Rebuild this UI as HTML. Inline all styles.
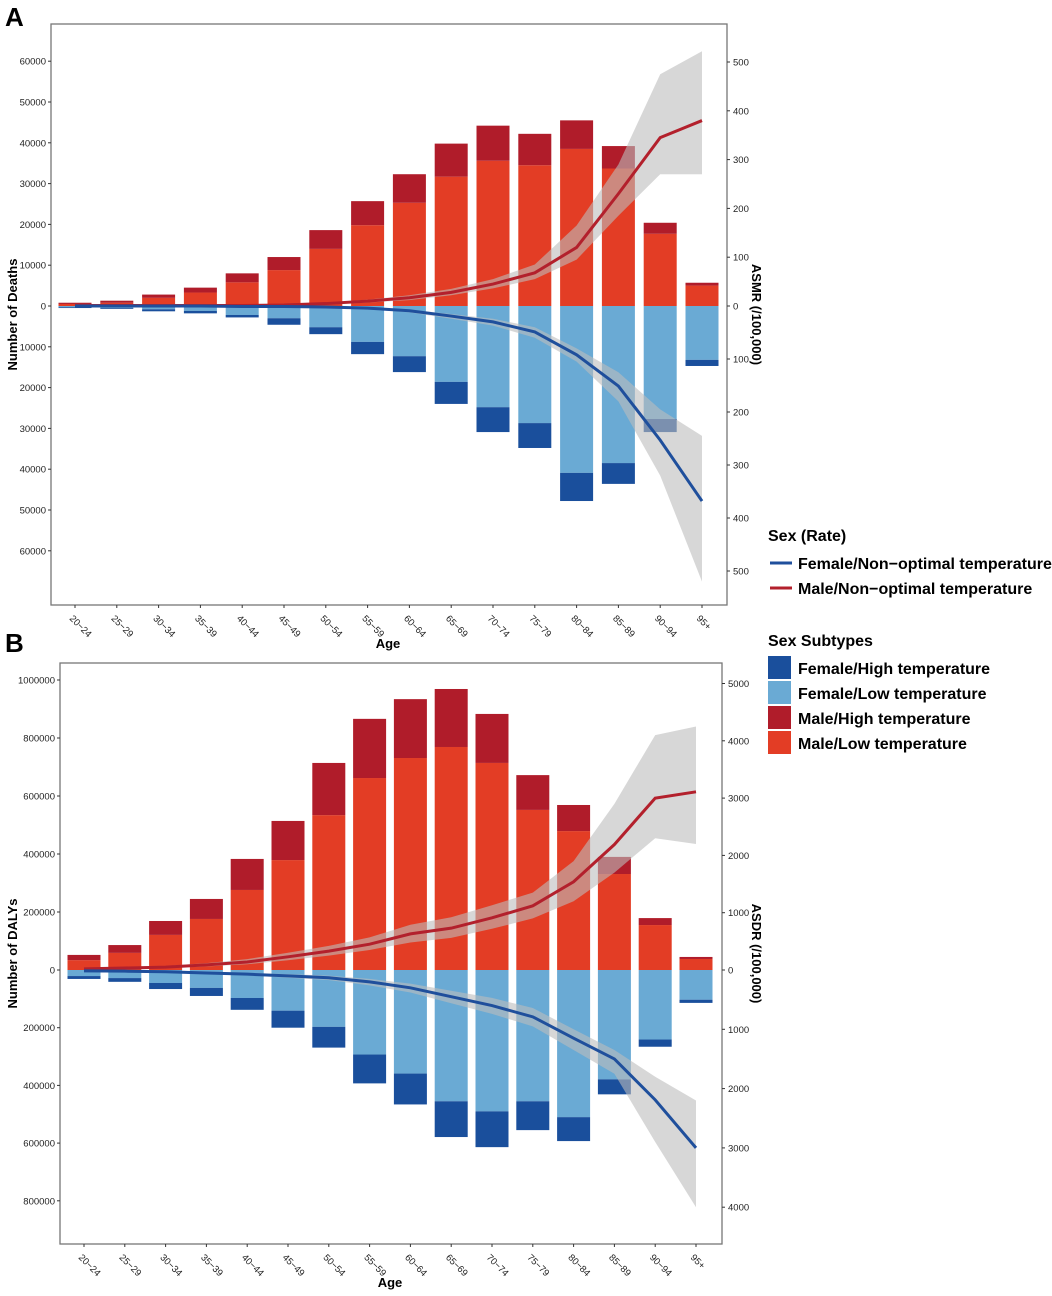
<!DOCTYPE html>
<html><head><meta charset="utf-8"><style>
html,body{margin:0;padding:0;background:#fff;}
svg{display:block;font-family:"Liberation Sans",Arial,sans-serif;}
</style></head><body>
<svg id="fig" width="1052" height="1296" viewBox="0 0 1052 1296" xmlns="http://www.w3.org/2000/svg">
<g id="root"></g>
</svg>
<script>
const ages = ["20-24","25-29","30-34","35-39","40-44","45-49","50-54","55-59","60-64","65-69","70-74","75-79","80-84","85-89","90-94","95+"];
// Panel A: deaths
const deathsMaleLow  = [500,800,2000,3300,5800,8800,14000,19800,25300,31700,35600,34500,38500,33700,17700,5000];
const deathsMaleHigh = [300,500,800,1200,2200,3200,4600,5900,7000,8100,8600,7700,7000,5500,2700,700];
const deathsFemLow   = [300,500,800,1200,2200,3000,5200,8800,12300,18600,24800,28700,40900,38500,27700,13200];
const deathsFemHigh  = [200,200,500,600,600,1600,1700,3000,3900,5400,6100,6100,6900,5100,3200,1500];
const asmrMale    = [1,1,1,1,1,2,5,10,17,28,45,68,120,230,345,380];
const asmrMaleLo  = [0,0,0,0,1,1,3,7,12,22,36,55,95,185,270,270];
const asmrMaleHi  = [2,2,2,2,2,3,7,13,22,35,55,85,165,290,475,522];
const asmrFem     = [0,0,0,0,1,1,2,4,9,19,30,49,92,151,253,368];
const asmrFemLo   = [0,0,0,0,0,1,1,3,7,15,24,40,80,125,195,245];
const asmrFemHi   = [1,1,1,1,1,2,3,6,12,24,37,60,105,180,320,520];
// Panel B: DALYs
const dalyMaleLow  = [34000,59000,121000,176000,276000,379000,534000,662000,731000,769000,714000,552000,479000,331000,155000,38000];
const dalyMaleHigh = [18000,27000,48000,69000,107000,135000,180000,204000,203000,200000,169000,120000,90000,59000,24000,7000];
const dalyFemLow   = [21000,28000,45000,62000,97000,141000,197000,293000,359000,455000,490000,455000,510000,379000,241000,103000];
const dalyFemHigh  = [10000,13000,21000,28000,41000,59000,72000,100000,107000,124000,124000,100000,83000,52000,25000,11000];
const asdrMale    = [20,35,50,90,140,230,330,450,630,730,910,1120,1540,2190,3000,3110];
const asdrMaleLo  = [10,20,35,60,100,170,250,350,480,560,720,900,1200,1700,2300,2200];
const asdrMaleHi  = [30,50,70,120,190,300,420,570,790,920,1130,1350,1900,2900,4100,4250];
const asdrFem     = [15,20,30,50,70,100,130,200,300,450,600,790,1150,1500,2190,3000];
const asdrFemLo   = [10,15,20,35,50,70,95,150,230,350,470,640,1000,1350,1800,2200];
const asdrFemHi   = [20,30,40,65,90,130,170,260,380,560,740,950,1350,1750,2900,4000];
const deathTicks = ["60000","50000","40000","30000","20000","10000","0","10000","20000","30000","40000","50000","60000"];
const deathTickVals = [60000,50000,40000,30000,20000,10000,0,-10000,-20000,-30000,-40000,-50000,-60000];
const asmrTickVals = [500,400,300,200,100,0,-100,-200,-300,-400,-500];
const dalyTickVals = [1000000,800000,600000,400000,200000,0,-200000,-400000,-600000,-800000];
const asdrTickVals = [5000,4000,3000,2000,1000,0,-1000,-2000,-3000,-4000];

const NS="http://www.w3.org/2000/svg";
const root=document.getElementById('root');
function mk(tag,attrs,parent,text){const e=document.createElementNS(NS,tag);for(const k in attrs)e.setAttribute(k,attrs[k]);if(text!==undefined)e.textContent=text;(parent||root).appendChild(e);return e;}
const C={fh:"#1a4f9c",fl:"#6aaad4",mh:"#b01c2a",ml:"#e33d25",bl:"#1f4f9c",rd:"#b3202c"};

function panel(cfg){
  const g=mk('g',{});
  
  
  const L=cfg.box[0],T=cfg.box[1],R=cfg.box[2],B=cfg.box[3];
  const yL=v=> v>=0 ? cfg.zero - v*cfg.lUp : cfg.zero - v*cfg.lDn;
  const yR=v=> v>=0 ? cfg.zero - v*cfg.rUp : cfg.zero - v*cfg.rDn;
  const x=i=> cfg.x0 + i*cfg.dx;
  const bw=33;
  // bars
  ages.forEach((a,i)=>{
    const ml=cfg.ml[i], mh=cfg.mh[i], fl=cfg.fl[i], fh=cfg.fh[i];
    let r=mk('rect',{x:x(i)-bw/2,y:yL(ml),width:bw,height:yL(0)-yL(ml),fill:C.ml},g);
    
    
    r=mk('rect',{x:x(i)-bw/2,y:yL(ml+mh),width:bw,height:yL(ml)-yL(ml+mh),fill:C.mh},g);
    
    
    r=mk('rect',{x:x(i)-bw/2,y:yL(0),width:bw,height:yL(-fl)-yL(0),fill:C.fl},g);
    
    
    r=mk('rect',{x:x(i)-bw/2,y:yL(-fl),width:bw,height:yL(-fl-fh)-yL(-fl),fill:C.fh},g);
    
    
  });
  // bands
  function band(lo,hi,sign,nm){
    let pts=ages.map((a,i)=>x(i)+','+yR(sign*hi[i]));
    pts=pts.concat(ages.map((a,i)=>x(i)+','+yR(sign*lo[i])).reverse());
    const p=mk('polygon',{points:pts.join(' '),fill:"#bdbdbd","fill-opacity":0.6},g);
    
    
  }
  band(cfg.rmLo,cfg.rmHi,1,'male-rate-ci-band');
  band(cfg.rfLo,cfg.rfHi,-1,'female-rate-ci-band');
  function line(v,sign,col,nm){
    const p=mk('polyline',{points:ages.map((a,i)=>x(i)+','+yR(sign*v[i])).join(' '),fill:'none',stroke:col,'stroke-width':3},g);
    
    
  }
  line(cfg.rm,1,C.rd,'male-rate-line');
  line(cfg.rf,-1,C.bl,'female-rate-line');
  // frame
  const f=mk('rect',{x:L,y:T,width:R-L,height:B-T,fill:'none',stroke:'#777','stroke-width':1.3},g);
  
  
  // left ticks
  cfg.lTicks.forEach(v=>{
    mk('line',{x1:L-3,x2:L,y1:yL(v),y2:yL(v),stroke:'#333'},g);
    const t=mk('text',{x:L-5,y:yL(v)+3.5,'font-size':9.5,'text-anchor':'end',fill:'#222'},g,String(Math.abs(v)));
    
    
  });
  cfg.rTicks.forEach(v=>{
    mk('line',{x1:R,x2:R+3,y1:yR(v),y2:yR(v),stroke:'#333'},g);
    const t=mk('text',{x:R+6,y:yR(v)+3.5,'font-size':9.5,fill:'#222'},g,String(Math.abs(v)));
    
    
  });
  ages.forEach((a,i)=>{
    mk('line',{x1:x(i),x2:x(i),y1:B,y2:B+3,stroke:'#333'},g);
    const t=mk('text',{x:x(i)-6,y:B+14,'font-size':9.5,fill:'#222',transform:`rotate(45 ${x(i)-6} ${B+14})`},g,a.replace('-','\u2212'));
    
    
  });
  let t=mk('text',{x:cfg.ageX,y:B+43,'font-size':13,'font-weight':'bold','text-anchor':'middle'},g,'Age');
  
  
  const my=(T+B)/2;
  t=mk('text',{x:17,y:my,'font-size':13,'font-weight':'bold','text-anchor':'middle',transform:`rotate(-90 17 ${my})`},g,cfg.lTitle);
  
  
  t=mk('text',{x:752,y:my,'font-size':13,'font-weight':'bold','text-anchor':'middle',transform:`rotate(90 752 ${my})`},g,cfg.rTitle);
  
  
  t=mk('text',{x:5,y:cfg.letterY,'font-size':26,'font-weight':'bold'},g,cfg.letter);
  
  
}

panel({name:'panel-a-deaths',box:[51,24,727,605],zero:306,lUp:40.8/10000,lDn:40.8/10000,rUp:48.8/100,rDn:53/100,
  x0:75,dx:41.8,ml:deathsMaleLow,mh:deathsMaleHigh,fl:deathsFemLow,fh:deathsFemHigh,
  rm:asmrMale,rmLo:asmrMaleLo,rmHi:asmrMaleHi,rf:asmrFem,rfLo:asmrFemLo,rfHi:asmrFemHi,
  lTicks:deathTickVals,rTicks:asmrTickVals,lTitle:'Number of Deaths',rTitle:'ASMR (/100,000)',ageX:388,letter:'A',letterY:26});
panel({name:'panel-b-dalys',box:[60,663,722,1244],zero:970,lUp:58/200000,lDn:57.7/200000,rUp:57.3/1000,rDn:59.3/1000,
  x0:84,dx:40.8,ml:dalyMaleLow,mh:dalyMaleHigh,fl:dalyFemLow,fh:dalyFemHigh,
  rm:asdrMale,rmLo:asdrMaleLo,rmHi:asdrMaleHi,rf:asdrFem,rfLo:asdrFemLo,rfHi:asdrFemHi,
  lTicks:dalyTickVals,rTicks:asdrTickVals,lTitle:'Number of DALYs',rTitle:'ASDR (/100,000)',ageX:390,letter:'B',letterY:652});

// legends
const lg=mk('g',{});


let t=mk('text',{x:768,y:541,'font-size':16,'font-weight':'bold'},lg,'Sex (Rate)');


[["Female/Non\u2212optimal temperature",C.bl,563],["Male/Non\u2212optimal temperature",C.rd,588]].forEach(d=>{
  mk('line',{x1:770,x2:792,y1:d[2],y2:d[2],stroke:d[1],'stroke-width':3},lg);
  const e=mk('text',{x:798,y:d[2]+6,'font-size':16,'font-weight':'bold'},lg,d[0]);
  
  
});
t=mk('text',{x:768,y:646,'font-size':16,'font-weight':'bold'},lg,'Sex Subtypes');


[["Female/High temperature",C.fh],["Female/Low temperature",C.fl],["Male/High temperature",C.mh],["Male/Low temperature",C.ml]].forEach((d,i)=>{
  const y=656+i*25;
  mk('rect',{x:768,y:y,width:23,height:23,fill:d[1]},lg);
  const e=mk('text',{x:798,y:y+18,'font-size':16,'font-weight':'bold'},lg,d[0]);
  
  
});
</script>
</body></html>
